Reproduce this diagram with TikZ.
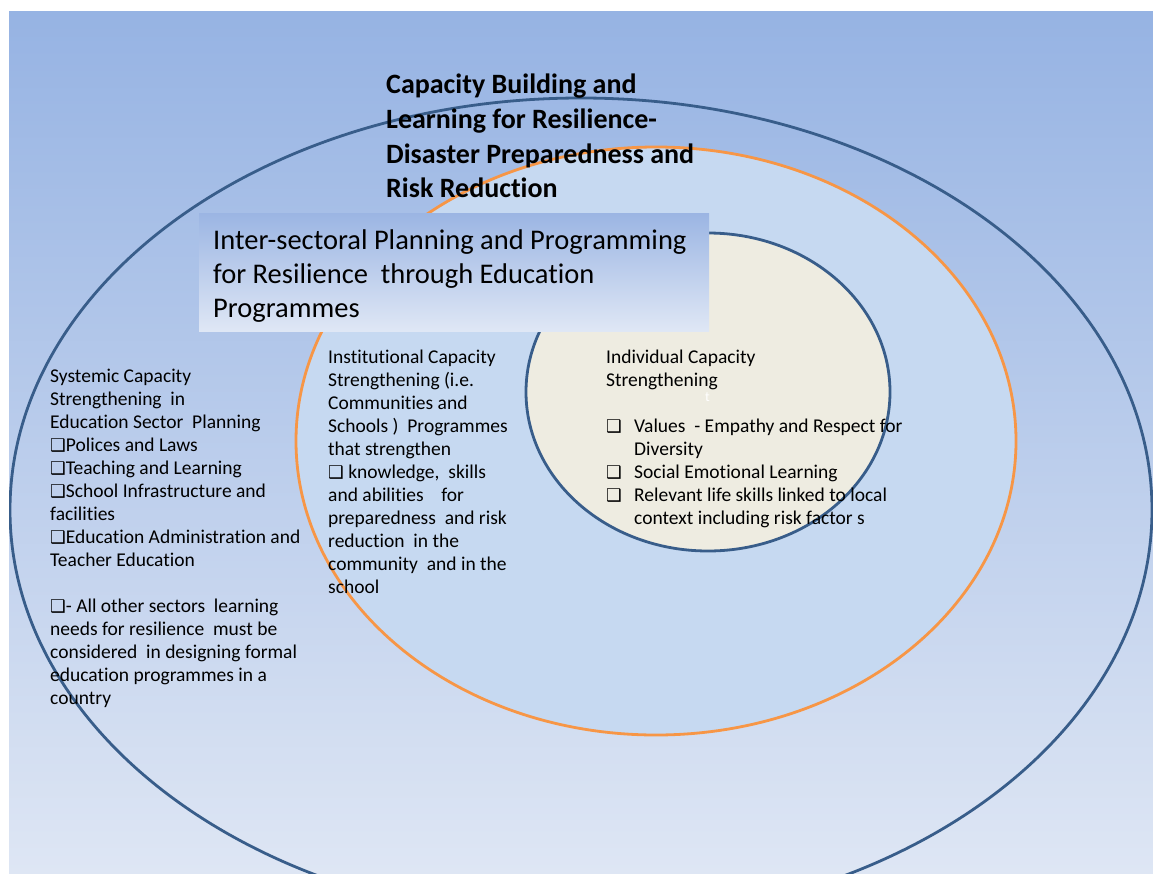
\documentclass[tikz,border=0pt]{standalone}
\usepackage{fontspec}
\setmainfont{Carlito}[Ligatures=NoCommon]
\newfontfamily\boxglyphs{DejaVu Sans}
\usetikzlibrary{shapes.geometric}

\definecolor{bgtop}{RGB}{150,179,227}
\definecolor{bgbottom}{RGB}{222,230,244}
\definecolor{ringblue}{RGB}{56,93,138}
\definecolor{ringorange}{RGB}{247,150,70}
\definecolor{midfill}{RGB}{198,217,241}
\definecolor{corefill}{RGB}{238,236,225}
\definecolor{bannertop}{RGB}{155,181,227}
\definecolor{bannerbottom}{RGB}{223,231,245}

\newcommand{\sqbullet}{{\boxglyphs\fontsize{17.5}{17.5}\selectfont ❑}}

\begin{document}
\begin{tikzpicture}[x=1pt,y=-1pt]

\tikzset{ring/.style = {shape=ellipse,inner sep=0pt,line width=2.8pt}}
\tikzset{body/.style = {anchor=north west,inner sep=0pt,align=left,
  font=\fontsize{19.5}{23}\selectfont}}

\useasboundingbox (0,0) rectangle (1153,873);

% page background
\shade[top color=bgtop,bottom color=bgbottom] (9,11) rectangle (1153,873);

\begin{scope}
\clip (9,11) rectangle (1153,873);
\node[ring,draw=ringblue,minimum width=1142pt,minimum height=824pt] (systemic) at (581,510) {};
\end{scope}
\node[ring,draw=ringorange,fill=midfill,minimum width=720pt,minimum height=588pt] (institutional) at (656,441) {};
\node[ring,draw=ringblue,fill=corefill,minimum width=364pt,minimum height=318pt] (individual) at (708,392) {};

% heading over the rings
\node[anchor=north west,inner sep=0pt,align=left,
  font=\fontsize{28}{34.7}\selectfont\bfseries] (heading) at (386,74)
  {Capacity Building and\\ Learning for Resilience-\\ Disaster Preparedness and\\ Risk Reduction};

% shaded banner
\shade[top color=bannertop,bottom color=bannerbottom] (199,213) rectangle (709,331);
\node[anchor=north west,inner sep=0pt,align=left,
  font=\fontsize{28.5}{34}\selectfont] (banner) at (213,230)
  {Inter-sectoral Planning and Programming\\ for Resilience\ \ through Education\\ Programmes};

\node[body] (systext) at (50,369)
  {Systemic Capacity\\ Strengthening\ \ in\\ Education Sector\ \ Planning\\
   \sqbullet Polices and Laws\\ \sqbullet Teaching and Learning\\
   \sqbullet School Infrastructure and\\ facilities\\
   \sqbullet Education Administration and\\ Teacher Education\\[23pt]
   \sqbullet - All other sectors\ \ learning\\ needs for resilience\ \ must be\\
   considered\ \ in designing formal\\ education programmes in a\\ country};

\node[body] (insttext) at (328,350)
  {Institutional Capacity\\ Strengthening (i.e.\\ Communities and\\
   Schools )\ \ Programmes\\ that strengthen\\ \sqbullet\ knowledge,\ \ skills\\
   and abilities\ \ \ \ for\\ preparedness\ \ and risk\\ reduction\ \ in the\\
   community\ \ and in the\\ school};

\node[body] (indtext) at (606,350)
  {Individual Capacity\\ Strengthening\\[23pt]
   \makebox[28pt][l]{\sqbullet}Values\ \ - Empathy and Respect for\\
   \hspace*{28pt}Diversity\\
   \makebox[28pt][l]{\sqbullet}Social Emotional Learning\\
   \makebox[28pt][l]{\sqbullet}Relevant life skills linked to local\\
   \hspace*{28pt}context including risk factor s};
\node[anchor=north west,inner sep=0pt,text=white,font=\fontsize{14}{14}\selectfont] (mark) at (705,392) {t};

\end{tikzpicture}
\end{document}
